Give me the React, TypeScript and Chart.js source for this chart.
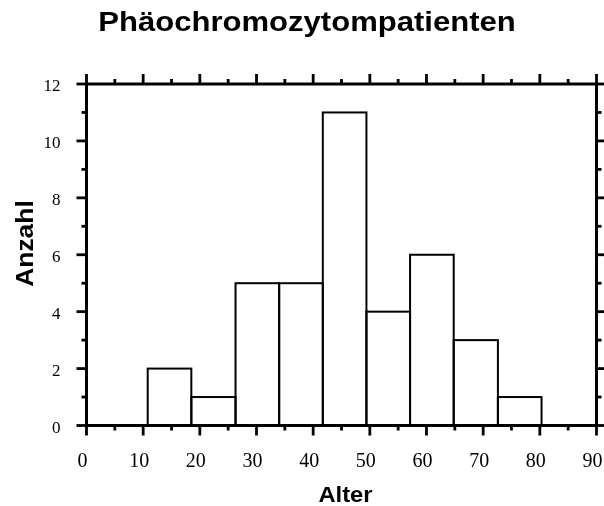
import React, { useEffect, useRef } from "react";
import { Chart, registerables } from "chart.js";

Chart.register(...registerables);

// Histogram data (age bins and patient counts)
const binEdges = [10.8, 18.5, 26.3, 34.0, 41.7, 49.4, 57.1, 64.8, 72.6, 80.3];
const counts = [2, 1, 5, 5, 11, 4, 6, 3, 1];

const xMajorTicks = [0, 10, 20, 30, 40, 50, 60, 70, 80, 90];
const xMinorTicks = [5, 15, 25, 35, 45, 55, 65, 75, 85];
const yMajorTicks = [0, 2, 4, 6, 8, 10, 12];
const yMinorTicks = [1, 3, 5, 7, 9, 11];

const titleText = "Phäochromozytompatienten";
const xTitle = "Alter";
const yTitle = "Anzahl";

const SANS = '"Liberation Sans", Arial, Helvetica, sans-serif';
const SERIF = '"Liberation Serif", "Times New Roman", Times, serif';

function wideText(ctx: any, text: string, cx: number, y: number, sx: number) {
  // draws text centred at cx, stretched horizontally by sx
  ctx.save();
  ctx.translate(cx, y);
  ctx.scale(sx, 1);
  ctx.textAlign = "center";
  ctx.fillText(text, 0, 0);
  ctx.restore();
}

const histPlugin = {
  id: "histOutline",
  afterDraw(chart: any) {
    const { ctx, chartArea: a } = chart;
    const xs = chart.scales.x;
    const ys = chart.scales.y;
    ctx.save();
    ctx.strokeStyle = "#000";
    ctx.lineCap = "butt";

    // bar outlines
    ctx.lineWidth = 2;
    for (let i = 0; i < counts.length; i++) {
      const l = xs.getPixelForValue(binEdges[i]);
      const r = xs.getPixelForValue(binEdges[i + 1]);
      const t = ys.getPixelForValue(counts[i]);
      const b = ys.getPixelForValue(0);
      ctx.strokeRect(l, t, r - l, b - t);
    }

    // frame
    ctx.lineWidth = 3;
    ctx.strokeRect(a.left, a.top, a.right - a.left, a.bottom - a.top);

    const line = (x1: number, y1: number, x2: number, y2: number) => {
      ctx.beginPath();
      ctx.moveTo(x1, y1);
      ctx.lineTo(x2, y2);
      ctx.stroke();
    };
    ctx.lineWidth = 2.8;
    const MAJ = 10;
    const MIN = 5;
    for (const v of xMajorTicks) {
      const p = xs.getPixelForValue(v);
      line(p, a.bottom, p, a.bottom + MAJ);
      line(p, a.top, p, a.top - MAJ);
    }
    for (const v of xMinorTicks) {
      const p = xs.getPixelForValue(v);
      line(p, a.bottom, p, a.bottom + MIN);
      line(p, a.top, p, a.top - MIN);
    }
    for (const v of yMajorTicks) {
      const p = ys.getPixelForValue(v);
      line(a.left, p, a.left - MAJ, p);
      line(a.right, p, a.right + MAJ, p);
    }
    for (const v of yMinorTicks) {
      const p = ys.getPixelForValue(v);
      line(a.left, p, a.left - MIN, p);
      line(a.right, p, a.right + MIN, p);
    }

    // titles
    ctx.fillStyle = "#000";
    ctx.textBaseline = "alphabetic";
    ctx.font = `bold 27px ${SANS}`;
    wideText(ctx, titleText, 307, 31, 1.15);

    ctx.font = `bold 22px ${SANS}`;
    wideText(ctx, xTitle, 345.5, 501.5, 1.08);

    ctx.save();
    ctx.translate(32.7, 243.5);
    ctx.rotate(-Math.PI / 2);
    ctx.font = `bold 24px ${SANS}`;
    wideText(ctx, yTitle, 0, 0, 1.1);
    ctx.restore();

    ctx.restore();
  },
};

export default function App() {
  const canvasRef = useRef<HTMLCanvasElement | null>(null);

  useEffect(() => {
    if (!canvasRef.current) return;
    const data = counts.map((c, i) => ({
      x: (binEdges[i] + binEdges[i + 1]) / 2,
      y: c,
    }));
    const chart = new Chart(canvasRef.current, {
      type: "bar",
      data: {
        datasets: [
          {
            label: "Anzahl",
            data,
            backgroundColor: "#ffffff",
            borderWidth: 0,
            barPercentage: 1,
            categoryPercentage: 1,
          },
        ],
      },
      options: {
        animation: false,
        responsive: true,
        maintainAspectRatio: false,
        layout: { padding: { top: 84, right: 7.5, bottom: 0, left: 0 } },
        plugins: {
          legend: { display: false },
          title: { display: false },
          tooltip: { enabled: false },
        },
        scales: {
          x: {
            type: "linear",
            position: "bottom",
            offset: false,
            min: 0,
            max: 90,
            grid: { display: false, drawTicks: false, offset: false },
            border: { display: false },
            ticks: {
              stepSize: 10,
              autoSkip: false,
              maxRotation: 0,
              color: "#000",
              padding: 24,
              labelOffset: -4,
              font: { family: SERIF, size: 20 },
            },
            afterFit: (s: any) => {
              s.height = 80.5;
              s.paddingLeft = 0;
              s.paddingRight = 0;
            },
          },
          y: {
            type: "linear",
            position: "left",
            min: 0,
            max: 12,
            grid: { display: false, drawTicks: false },
            border: { display: false },
            ticks: {
              stepSize: 2,
              autoSkip: false,
              color: "#000",
              padding: 26,
              labelOffset: 3,
              font: { family: SERIF, size: 17 },
            },
            afterFit: (s: any) => {
              s.width = 86.5;
              s.paddingTop = 0;
              s.paddingBottom = 0;
            },
          },
        },
      },
      plugins: [histPlugin],
    });
    return () => chart.destroy();
  }, []);

  return (
    <div style={{ position: "absolute", left: 0, top: 0, width: 604, height: 506, background: "#fff" }}>
      <canvas ref={canvasRef} />
    </div>
  );
}
